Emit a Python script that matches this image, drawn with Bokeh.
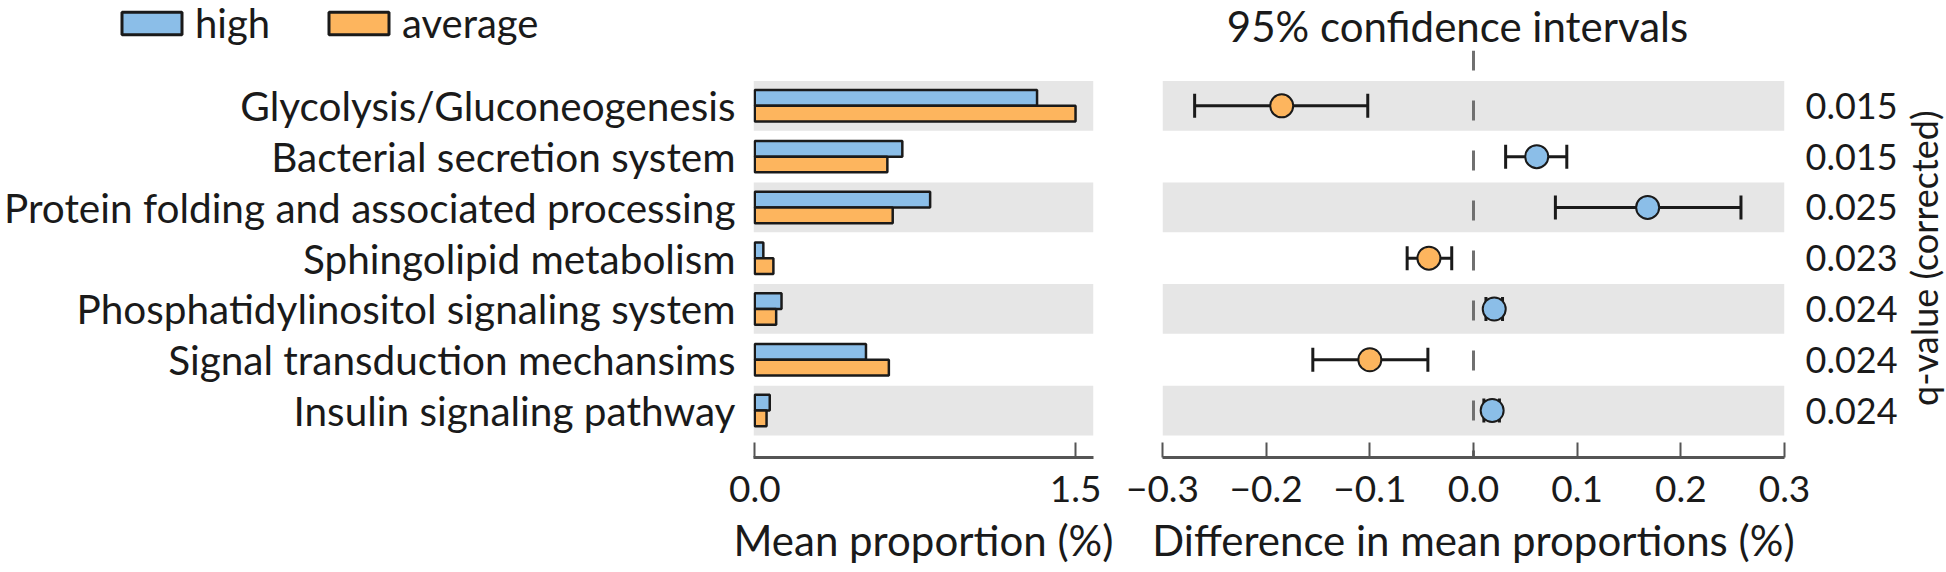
import numpy as np
from bokeh.plotting import figure
from bokeh.models import Range1d, FixedTicker, Span, Label, Legend, LegendItem, ColumnDataSource
from bokeh.layouts import row, column
from bokeh.core.properties import value
from bokeh.embed import file_html
from bokeh.resources import INLINE

# ---------------- data ----------------
categories = [
    "Glycolysis/Gluconeogenesis",
    "Bacterial secretion system",
    "Protein folding and associated processing",
    "Sphingolipid metabolism",
    "Phosphatidylinositol signaling system",
    "Signal transduction mechansims",
    "Insulin signaling pathway",
]
group_names = ["high", "average"]
high_mean = [1.32, 0.69, 0.82, 0.04, 0.125, 0.52, 0.07]
average_mean = [1.50, 0.62, 0.645, 0.087, 0.10, 0.627, 0.055]
diff_mean = [-0.185, 0.061, 0.168, -0.043, 0.020, -0.100, 0.018]
ci_low = [-0.269, 0.031, 0.079, -0.064, 0.012, -0.155, 0.010]
ci_high = [-0.102, 0.090, 0.258, -0.021, 0.028, -0.044, 0.025]
q_values = ["0.015", "0.015", "0.025", "0.023", "0.024", "0.024", "0.024"]
left_ticks = [0.0, 1.5]
left_tick_labels = ["0.0", "1.5"]
right_ticks = [-0.3, -0.2, -0.1, 0.0, 0.1, 0.2, 0.3]
right_tick_labels = ["\u22120.3", "\u22120.2", "\u22120.1", "0.0", "0.1", "0.2", "0.3"]
ci_title = "95% confidence intervals"
q_title = "q-value (corrected)"

# ---------------- style ----------------
FONT = "Lato"
BLUE = "#8BBEE8"
ORANGE = "#FDB55E"
EDGE = "#1a1a1a"
BAND = "#E6E6E6"
AXIS = "#555555"
TXT = "#1a1a1a"
TOP_H = 50
MAIN_H = 522
Y0, Y1 = 0.075, 8.09

n = len(categories)
ypos = [float(n - i) for i in range(n)]
band_y = [ypos[i] for i in range(0, n, 2)]


def style_xaxis(p, ticks, labels, title):
    ax = p.xaxis[0]
    ax.ticker = FixedTicker(ticks=ticks)
    ax.major_label_overrides = {t: l for t, l in zip(ticks, labels)}
    ax.axis_line_color = AXIS
    ax.axis_line_width = 3
    ax.major_tick_line_color = AXIS
    ax.major_tick_line_width = 2
    ax.major_tick_in = 15
    ax.major_tick_out = 0
    ax.minor_tick_line_color = None
    ax.major_label_text_font = FONT
    ax.major_label_text_font_size = "37px"
    ax.major_label_text_color = TXT
    ax.major_label_standoff = 18
    ax.axis_label = title
    ax.axis_label_text_font = FONT
    ax.axis_label_text_font_size = "42px"
    ax.axis_label_text_font_style = "normal"
    ax.axis_label_text_color = TXT
    ax.axis_label_standoff = 10


def base(p):
    p.xgrid.visible = False
    p.ygrid.visible = False
    p.outline_line_color = None
    p.background_fill_color = "white"
    p.border_fill_color = "white"


# ---------------- top strip: legend + CI title ----------------
top = figure(width=1946, height=TOP_H, x_range=Range1d(0, 1946), y_range=Range1d(0, TOP_H),
             output_backend="svg", toolbar_location=None,
             min_border_left=0, min_border_right=0, min_border_top=0, min_border_bottom=0)
base(top)
top.axis.visible = False
# legend keys only: empty (NaN) bars that draw nothing themselves
k_hi = top.hbar(y=[np.nan], left=[np.nan], right=[np.nan], height=1,
                fill_color=BLUE, line_color=EDGE, line_width=3)
k_av = top.hbar(y=[np.nan], left=[np.nan], right=[np.nan], height=1,
                fill_color=ORANGE, line_color=EDGE, line_width=3)
legend = Legend(items=[LegendItem(label=group_names[0], renderers=[k_hi]),
                       LegendItem(label=group_names[1], renderers=[k_av])],
                orientation="horizontal", location=(114, 3),
                label_text_font=FONT, label_text_font_size="40px", label_text_color=TXT,
                glyph_width=75, glyph_height=28, label_height=28, label_standoff=6, spacing=51,
                padding=0, margin=0, border_line_color=None, background_fill_alpha=0)
top.add_layout(legend)
top.add_layout(Label(x=1457, y=25, text=ci_title, text_align="center", text_baseline="middle",
                     text_font=FONT, text_font_size="42px", text_color=TXT))

# ---------------- left panel: mean proportions ----------------
left = figure(width=1120, height=MAIN_H, x_range=Range1d(-0.006, 1.584), y_range=Range1d(Y0, Y1),
              output_backend="svg", toolbar_location=None,
              min_border_left=753, min_border_right=27, min_border_top=0, min_border_bottom=115)
base(left)
left.hbar(y=band_y, left=left.x_range.start, right=left.x_range.end, height=0.98,
          fill_color=BAND, line_color=None, level="image")

src = ColumnDataSource(dict(
    y_hi=[y + 0.155 for y in ypos], y_av=[y - 0.155 for y in ypos],
    high=high_mean, avg=average_mean))
left.hbar(y="y_hi", left=0, right="high", height=0.31, source=src,
          fill_color=BLUE, line_color=EDGE, line_width=2.5)
left.hbar(y="y_av", left=0, right="avg", height=0.31, source=src,
          fill_color=ORANGE, line_color=EDGE, line_width=2.5)

style_xaxis(left, left_ticks, left_tick_labels, "Mean proportion (%)")
ya = left.yaxis[0]
ya.ticker = FixedTicker(ticks=ypos)
ya.major_label_overrides = {y: c for y, c in zip(ypos, categories)}
ya.axis_line_color = None
ya.major_tick_line_color = None
ya.minor_tick_line_color = None
ya.major_label_text_font = FONT
ya.major_label_text_font_size = "40.5px"
ya.major_label_text_color = TXT
ya.major_label_standoff = 12

# ---------------- right panel: differences with CI ----------------
right = figure(width=780, height=MAIN_H, x_range=Range1d(-0.3, 0.3), y_range=Range1d(Y0, Y1),
               y_axis_location="right", output_backend="svg", toolbar_location=None,
               min_border_left=42, min_border_right=108, min_border_top=0, min_border_bottom=115)
base(right)
right.hbar(y=band_y, left=right.x_range.start, right=right.x_range.end, height=0.98,
           fill_color=BAND, line_color=None, level="image")
right.add_layout(Span(location=0, dimension="height", line_color="#707070", line_width=3,
                      line_dash="20 30", level="underlay"))

right.segment(x0=ci_low, y0=ypos, x1=ci_high, y1=ypos, line_color=EDGE, line_width=3)
right.scatter(x=ci_low + ci_high, y=ypos + ypos, marker="dash", angle=np.pi / 2, size=24,
              line_color=EDGE, line_width=3)
point_colors = [BLUE if d > 0 else ORANGE for d in diff_mean]
right.scatter(x=diff_mean, y=ypos, marker="circle", size=23, fill_color=point_colors,
              line_color=EDGE, line_width=2)

style_xaxis(right, right_ticks, right_tick_labels, "Difference in mean proportions (%)")
qa = right.yaxis[0]
qa.ticker = FixedTicker(ticks=ypos)
qa.major_label_overrides = {y: q for y, q in zip(ypos, q_values)}
qa.axis_line_color = None
qa.major_tick_line_color = None
qa.minor_tick_line_color = None
qa.major_label_text_font = FONT
qa.major_label_text_font_size = "36px"
qa.major_label_text_color = TXT
qa.major_label_standoff = 15

# ---------------- far right strip: rotated q-value title ----------------
qfig = figure(width=46, height=MAIN_H, x_range=Range1d(0, 46), y_range=Range1d(Y0, Y1),
              output_backend="svg", toolbar_location=None,
              min_border_left=0, min_border_right=0, min_border_top=0, min_border_bottom=115)
base(qfig)
qfig.axis.visible = False
qfig.text(x=[23], y=[float(np.mean(ypos))], text=[q_title], angle=np.pi / 2,
          text_align="center", text_baseline="middle",
          text_font=value(FONT), text_font_size="36px", text_color=TXT)

layout = column(top, row(left, right, qfig))
open("out.html", "w").write(file_html(layout, INLINE))
